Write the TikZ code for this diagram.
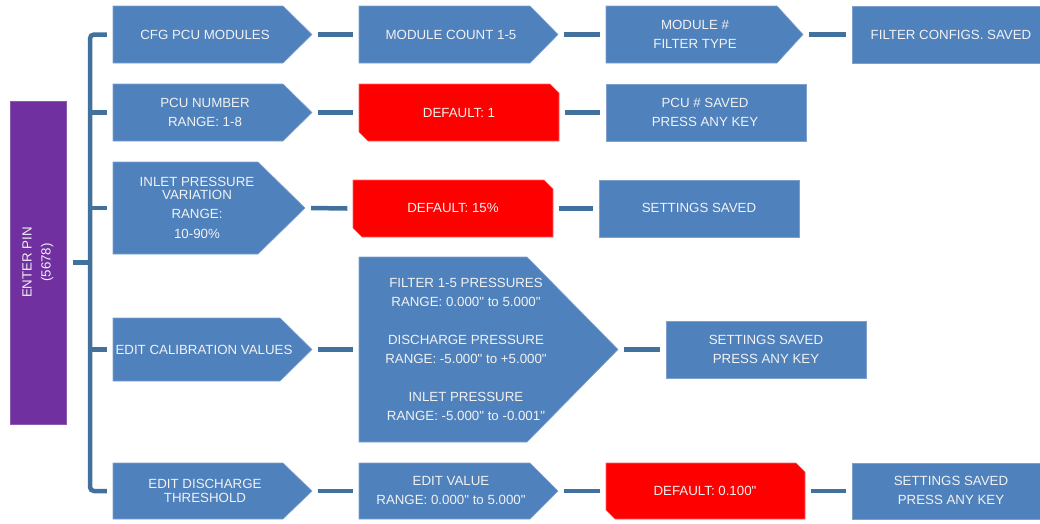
\documentclass[tikz,border=0pt]{standalone}
\usepackage{fontspec}
\setmainfont{Liberation Sans}[Ligatures=TeXOff]
\definecolor{boxblue}{HTML}{4F81BD}
\definecolor{boxedge}{HTML}{7FA0CF}
\definecolor{connblue}{HTML}{41719C}
\definecolor{redbox}{HTML}{FF0000}
\definecolor{rededge}{HTML}{FF6060}
\definecolor{pinpurple}{HTML}{7030A0}
\definecolor{txtcol}{HTML}{F2F2F2}
\tikzset{
  bluefill/.style={fill=boxblue, draw=boxedge, line width=0.6pt},
  redfill/.style={fill=redbox, draw=rededge, line width=0.6pt},
  frame/.style={draw=none, inner sep=0pt, rectangle},
  lbl/.style={text=txtcol, font=\fontsize{13.3}{19}\selectfont, align=center, inner sep=0pt},
  conn/.style={draw=connblue, line width=4.5pt},
}
\begin{document}
\begin{tikzpicture}[x=1pt, y=-1pt]
\useasboundingbox (0,0) rectangle (1040,523);

% ---- purple ENTER PIN ----
\path[fill=pinpurple, draw=pinpurple!80!white, line width=0.6pt] (10,101) rectangle (66,424);
\node[frame, minimum width=56, minimum height=323] (pin) at (38,262.5) {};
\node[lbl, rotate=90] (pin-t) at (38,262.5) {ENTER PIN\\(5678)};

% ---- row 1 ----
\path[bluefill] (113,6) -- (283,6) -- (312,34.5) -- (283,63) -- (113,63) -- cycle;
\node[frame, minimum width=199, minimum height=57] (cfg) at (212.5,34.5) {};
\node[lbl] (cfg-t) at (205,34.5) {CFG PCU MODULES};

\path[bluefill] (359,6) -- (530,6) -- (558,34.5) -- (530,63) -- (359,63) -- cycle;
\node[frame, minimum width=199, minimum height=57] (mc) at (458.5,34.5) {};
\node[lbl] (mc-t) at (451,34.5) {MODULE COUNT 1-5};

\path[bluefill] (606,6) -- (777,6) -- (803,34.5) -- (777,63) -- (606,63) -- cycle;
\node[frame, minimum width=197, minimum height=57] (mft) at (704.5,34.5) {};
\node[lbl] (mft-t) at (695,34) {MODULE \#\\FILTER TYPE};

\path[bluefill] (852,6) rectangle (1040,63);
\node[frame, minimum width=188, minimum height=57] (fcs) at (946,34.5) {};
\node[lbl] (fcs-t) at (951,34.5) {FILTER CONFIGS. SAVED};

% ---- row 2 ----
\path[bluefill] (113,84) -- (283,84) -- (312,112.5) -- (283,141) -- (113,141) -- cycle;
\node[frame, minimum width=199, minimum height=57] (pcu) at (212.5,112.5) {};
\node[lbl] (pcu-t) at (205,112) {PCU NUMBER\\RANGE: 1-8};

\path[redfill] (359,84) -- (550,84) -- (559,93) -- (559,141) -- (368,141) -- (359,132) -- cycle;
\node[frame, minimum width=200, minimum height=57] (d1) at (459,112.5) {};
\node[lbl] (d1-t) at (459,112.5) {DEFAULT: 1};

\path[bluefill] (606,84) rectangle (806,141);
\node[frame, minimum width=200, minimum height=57] (pcs) at (706,112.5) {};
\node[lbl] (pcs-t) at (705,112) {PCU \# SAVED\\PRESS ANY KEY};

% ---- row 3 ----
\path[bluefill] (113,162) -- (258,162) -- (305,208) -- (258,254) -- (113,254) -- cycle;
\node[frame, minimum width=192, minimum height=92] (inl) at (209,208) {};
\node[lbl] (inl-t) at (197,208) {INLET PRESSURE\\[-6pt]VARIATION\\RANGE:\\[1pt]10-90\%};

\path[redfill] (353,180) -- (544,180) -- (553,189) -- (553,237) -- (362,237) -- (353,228) -- cycle;
\node[frame, minimum width=200, minimum height=57] (d15) at (453,208.5) {};
\node[lbl] (d15-t) at (453,208) {DEFAULT: 15\%};

\path[bluefill] (599,180) rectangle (799,237);
\node[frame, minimum width=200, minimum height=57] (ss3) at (699,208.5) {};
\node[lbl] (ss3-t) at (699,208) {SETTINGS SAVED};

% ---- row 4 ----
\path[bluefill] (113,318) -- (280,318) -- (312,349.5) -- (280,381) -- (113,381) -- cycle;
\node[frame, minimum width=199, minimum height=63] (cal) at (212.5,349.5) {};
\node[lbl] (cal-t) at (204,349.5) {EDIT CALIBRATION VALUES};

\path[bluefill] (359,257) -- (527,257) -- (618,349.5) -- (527,442) -- (359,442) -- cycle;
\node[frame, minimum width=259, minimum height=185] (big) at (488.5,349.5) {};
\node[lbl] (big-t) at (466,349) {FILTER 1-5 PRESSURES\\RANGE: 0.000" to 5.000"\\[19pt]DISCHARGE PRESSURE\\RANGE: -5.000" to +5.000"\\[19pt]INLET PRESSURE\\RANGE: -5.000" to -0.001"};

\path[bluefill] (666,321) rectangle (866,378);
\node[frame, minimum width=200, minimum height=57] (ss4) at (766,349.5) {};
\node[lbl] (ss4-t) at (766,349.5) {SETTINGS SAVED\\PRESS ANY KEY};

% ---- row 5 ----
\path[bluefill] (113,463) -- (283,463) -- (312,491) -- (283,519) -- (113,519) -- cycle;
\node[frame, minimum width=199, minimum height=56] (dis) at (212.5,491) {};
\node[lbl] (dis-t) at (205,491) {EDIT DISCHARGE\\[-5pt]THRESHOLD};

\path[bluefill] (359,463) -- (530,463) -- (558,491) -- (530,519) -- (359,519) -- cycle;
\node[frame, minimum width=199, minimum height=56] (ev) at (458.5,491) {};
\node[lbl] (ev-t) at (451,490.5) {EDIT VALUE\\RANGE: 0.000" to 5.000"};

\path[redfill] (606,463) -- (796,463) -- (805,472) -- (805,519) -- (615,519) -- (606,510) -- cycle;
\node[frame, minimum width=199, minimum height=56] (d100) at (705.5,491) {};
\node[lbl] (d100-t) at (705,491) {DEFAULT: 0.100"};

\path[bluefill] (852,463) rectangle (1040,519);
\node[frame, minimum width=188, minimum height=56] (ss5) at (946,491) {};
\node[lbl] (ss5-t) at (951,490.5) {SETTINGS SAVED\\PRESS ANY KEY};

% ---- connectors ----
\coordinate (spine) at (90,0);
\draw[conn, rounded corners=4pt] ([xshift=-6pt]cfg.west) -| (spine |- dis.west) -- ([xshift=-6pt]dis.west);
\draw[conn] ([xshift=-6pt]pcu.west) -- (spine |- pcu.west);
\draw[conn] ([xshift=-6pt]inl.west) -- (spine |- inl.west);
\draw[conn] ([xshift=-6pt]cal.west) -- (spine |- cal.west);
\draw[conn] ([xshift=7pt]pin.east) -- (spine |- pin.east);

\draw[conn] ([xshift=5.5pt]cfg.east) -- ([xshift=-5.5pt]mc.west);
\draw[conn] ([xshift=5.5pt]mc.east) -- ([xshift=-5.5pt]mft.west);
\draw[conn] ([xshift=5.5pt]mft.east) -- ([xshift=-5.5pt]fcs.west);

\draw[conn] ([xshift=5.5pt]pcu.east) -- ([xshift=-5.5pt]d1.west);
\draw[conn] ([xshift=5.5pt]d1.east) -- ([xshift=-5.5pt]pcs.west);

\draw[conn] ([xshift=6pt]inl.east) -- ([xshift=-5.5pt]d15.west);
\draw[conn] ([xshift=5.5pt]d15.east) -- ([xshift=-5.5pt]ss3.west);

\draw[conn] ([xshift=5.5pt]cal.east) -- ([xshift=-5.5pt]big.west);
\draw[conn] ([xshift=5.5pt]big.east) -- ([xshift=-5.5pt]ss4.west);

\draw[conn] ([xshift=5.5pt]dis.east) -- ([xshift=-5.5pt]ev.west);
\draw[conn] ([xshift=5.5pt]ev.east) -- ([xshift=-5.5pt]d100.west);
\draw[conn] ([xshift=5.5pt]d100.east) -- ([xshift=-5.5pt]ss5.west);
\end{tikzpicture}
\end{document}
